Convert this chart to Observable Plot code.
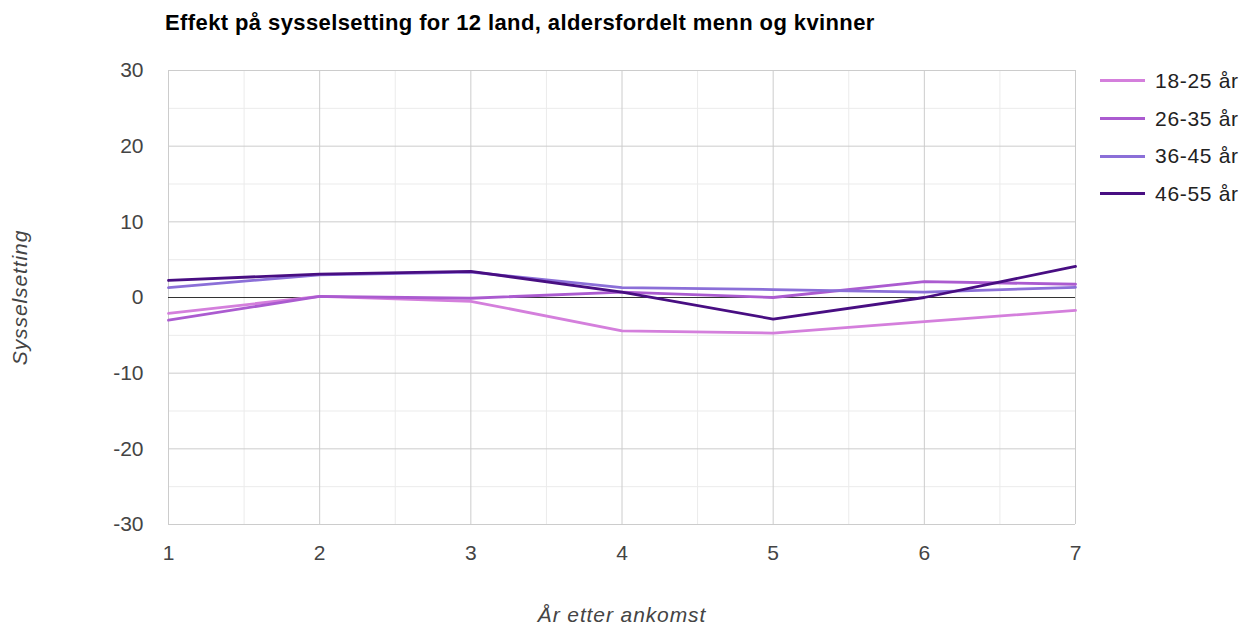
<!DOCTYPE html>
<html><head><meta charset="utf-8">
<script src="https://cdn.jsdelivr.net/npm/d3@7"></script>
<script src="https://cdn.jsdelivr.net/npm/@observablehq/plot@0.6"></script>
<style>
body{margin:0;background:#fff;font-family:"Liberation Sans",Arial,sans-serif;}
#wrap{position:relative;width:1250px;height:626px;}
#title{position:absolute;left:165px;top:10px;font-weight:bold;font-size:22px;letter-spacing:0.4px;color:#000;line-height:25px;white-space:nowrap;}
#legend{position:absolute;left:1100px;top:62px;}
.li{display:flex;align-items:center;height:37.7px;font-size:21px;letter-spacing:0.7px;color:#222;}
.sw{width:45px;height:3px;margin-right:10px;}
g[aria-label="y-axis label"] text, g[aria-label="x-axis label"] text{font-style:italic;letter-spacing:0.9px;}
</style></head>
<body><div id="wrap"><div id="title">Effekt på sysselsetting for 12 land, aldersfordelt menn og kvinner</div><div id="legend"></div></div>
<script>
const years = [1,2,3,4,5,6,7];
const seriesNames = ["18-25 år","26-35 år","36-45 år","46-55 år"];
const colors = ["#d47fdc","#ab5bd0","#8b6fd8","#480e82"];
const v18_25 = [-2.1, 0.15, -0.5, -4.4, -4.7, -3.2, -1.7];
const v26_35 = [-3.0, 0.15, -0.1, 0.7, 0.0, 2.1, 1.75];
const v36_45 = [1.3, 3.0, 3.35, 1.3, 1.05, 0.7, 1.35];
const v46_55 = [2.25, 3.1, 3.45, 0.7, -2.85, 0.0, 4.1];
const yTicks = [-30,-20,-10,0,10,20,30];
const yMinor = [-25,-15,-5,5,15,25];
const xMinor = [1.5,2.5,3.5,4.5,5.5,6.5];

const allVals = [v18_25, v26_35, v36_45, v46_55];
const data = [];
seriesNames.forEach((s,i)=>years.forEach((x,j)=>data.push({series:s, x, y: allVals[i][j]})));

const chart = Plot.plot({
  width:1250, height:626,
  marginLeft:168, marginRight:175, marginTop:70, marginBottom:102,
  style:{fontFamily:'"Liberation Sans",Arial,sans-serif', fontSize:"21px", color:"#444", background:"#fff"},
  x:{domain:[1,7]},
  y:{domain:[-30,30]},
  color:{domain:seriesNames, range:colors},
  marks:[
    Plot.ruleY(yMinor,{stroke:"#ebebeb", strokeWidth:1}),
    Plot.ruleX(xMinor,{stroke:"#ebebeb", strokeWidth:1}),
    Plot.ruleY(yTicks,{stroke:"#cccccc", strokeWidth:1}),
    Plot.ruleX(years,{stroke:"#cccccc", strokeWidth:1}),
    Plot.ruleY([0],{stroke:"#333", strokeWidth:1}),
    Plot.axisY({ticks:yTicks, tickFormat:d=>String(d), tickSize:0, tickPadding:25, fontSize:21, fill:"#444",
      label:"Sysselsetting", labelAnchor:"center", labelArrow:"none", labelOffset:156}),
    Plot.axisX({ticks:years, tickFormat:d=>String(d), tickSize:0, tickPadding:21, fontSize:21, fill:"#444",
      label:"År etter ankomst", labelAnchor:"center", labelArrow:"none", labelOffset:97}),
    Plot.line(data,{x:"x", y:"y", z:"series", stroke:"series", strokeWidth:2.8})
  ]
});
chart.style.position="absolute"; chart.style.left="0"; chart.style.top="0";
document.getElementById("wrap").prepend(chart);
const leg = document.getElementById("legend");
seriesNames.forEach((s,i)=>{
  const d=document.createElement("div"); d.className="li";
  d.innerHTML=`<div class="sw" style="background:${colors[i]}"></div><span>${s}</span>`;
  leg.appendChild(d);
});
</script></body></html>
